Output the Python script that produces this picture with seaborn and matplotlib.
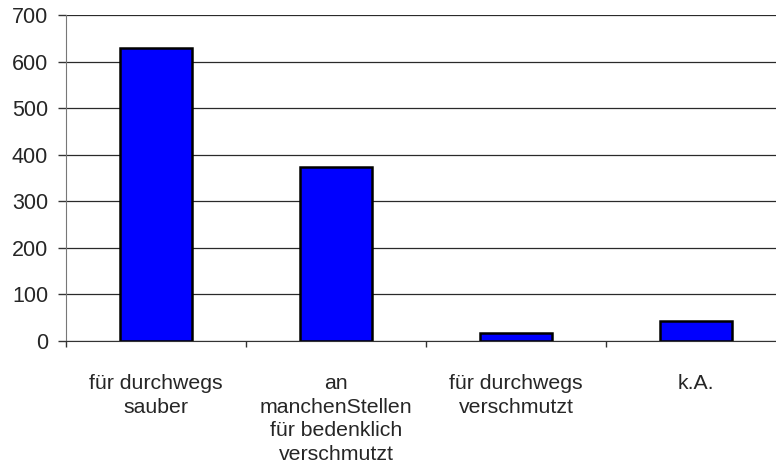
import pandas as pd
import seaborn as sns
import matplotlib.pyplot as plt
from matplotlib.ticker import FixedLocator

# data
categories = [
    "für durchwegs\nsauber",
    "an\nmanchenStellen\nfür bedenklich\nverschmutzt",
    "für durchwegs\nverschmutzt",
    "k.A.",
]
counts = [629, 374, 18, 44]

df = pd.DataFrame({"Kategorie": categories, "Anzahl": counts})

sns.set_style("white")
plt.rcParams["font.family"] = ["Liberation Sans", "DejaVu Sans"]

fig = plt.figure(figsize=(7.76, 4.73), dpi=100)
ax = fig.add_axes([66 / 776, 1 - 341 / 473, 720 / 776, 326 / 473])

sns.barplot(data=df, x="Kategorie", y="Anzahl", color="#0000ff",
            saturation=1, width=0.4, edgecolor="black", linewidth=1.8, ax=ax)

ax.set_ylim(0, 700)
ax.set_xlim(-0.5, 3.5)
ax.set_yticks(range(0, 701, 100))
ax.yaxis.grid(True, color="#2a2a2a", linewidth=0.9)
ax.set_axisbelow(True)

ax.set_xlabel("")
ax.set_ylabel("")

# tick marks sit between categories, labels centred under bars
ax.xaxis.set_minor_locator(FixedLocator([-0.5, 0.5, 1.5, 2.5, 3.5]))
ax.tick_params(axis="x", which="major", length=0, pad=24, labelsize=15.3)
ax.tick_params(axis="x", which="minor", length=4.3, width=1, color="#333333", direction="out", bottom=True)
ax.tick_params(axis="y", length=5.8, width=1, color="#333333", direction="out", left=True, labelsize=15.5, pad=7)
for lab in ax.get_xticklabels():
    lab.set_linespacing(1.3)

for side in ["top", "right"]:
    ax.spines[side].set_visible(False)
ax.spines["left"].set_color("#777777")
ax.spines["bottom"].set_color("#333333")

fig.savefig("out.png", dpi=100)
